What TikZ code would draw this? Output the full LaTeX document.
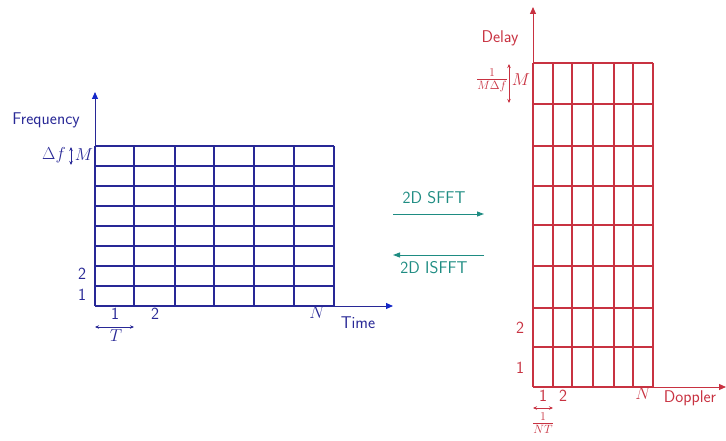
\documentclass[tikz,border=0pt]{standalone}
\usetikzlibrary{arrows.meta,positioning}
\definecolor{tfblue}{RGB}{40,40,150}
\definecolor{axblue}{RGB}{20,40,200}
\definecolor{ddred}{RGB}{200,50,65}
\definecolor{sfteal}{RGB}{30,140,130}
\tikzset{every picture/.style={line width=0.75pt}}
\tikzset{
  gridline/.style={line width=1.2pt},
  axisline/.style={line width=1pt,-{Triangle[length=7pt,width=6pt]}},
  blueaxis/.style={line width=1pt,tfblue,-{Triangle[length=7pt,width=6pt,color=axblue]}},
  spanarrow/.style={line width=0.8pt,{Stealth[length=4pt,width=3.5pt]}-{Stealth[length=4pt,width=3.5pt]}},
  transarrow/.style={line width=1pt,sfteal,-{Triangle[length=7pt,width=5pt]}}
}
\begin{document}
\begin{tikzpicture}[x=1pt,y=-1pt,font=\sffamily\fontsize{17}{19}\selectfont]
    \useasboundingbox (0,0) rectangle (726,441);

    % 时频网格
    \foreach \x in {95,134,175,214,254,294,334}
        \draw[gridline,tfblue] (\x,146) -- (\x,306);
    \foreach \y in {146,166,...,306}
        \draw[gridline,tfblue] (95,\y) -- (334,\y);

    % 时频坐标轴
    \coordinate (tfo) at (95,306);
    \coordinate (tfy) at (95,92);
    \coordinate (tfx) at (393,306);
    \draw[blueaxis] (tfo) -- (tfy);
    \draw[blueaxis] (tfo) -- (tfx);
    \node[tfblue] (freq) at (46,120) {Frequency};
    \node[tfblue] (time) at (358,323) {Time};

    % 频率间隔
    \node[tfblue] (df) at (54,155) {$\Delta f$};
    \node[tfblue] (fM) at (84,155) {$M$};
    \coordinate (dfa) at (71,147);
    \coordinate (dfb) at (71,165);
    \draw[spanarrow,tfblue] (dfa) -- (dfb);
    \node[tfblue] (f2) at (82,274) {2};
    \node[tfblue] (f1) at (82,295) {1};

    % 时间间隔
    \node[tfblue] (t1) at (115,314) {1};
    \node[tfblue] (t2) at (155,314) {2};
    \node[tfblue] (tN) at (317,313) {$N$};
    \coordinate (ta) at (95,327);
    \coordinate (tb) at (134,327);
    \draw[spanarrow,tfblue] (ta) -- (tb);
    \node[tfblue] (tT) at (116,336) {$T$};

    % 变换箭头
    \coordinate (sa) at (393,214);
    \coordinate (sb) at (484,214);
    \coordinate (ia) at (484,255);
    \coordinate (ib) at (393,255);
    \draw[transarrow] (sa) -- (sb);
    \draw[transarrow] (ia) -- (ib);
    \node[sfteal] (sfft) at (434,198) {2D SFFT};
    \node[sfteal] (isfft) at (434,268) {2D ISFFT};

    % 时延多普勒网格
    \foreach \x in {533,553,572,593,614,633,653}
        \draw[gridline,ddred] (\x,63) -- (\x,387);
    \foreach \y in {63,104,146,186,225,266,308,347,387}
        \draw[gridline,ddred] (533,\y) -- (653,\y);

    % 时延多普勒坐标轴
    \coordinate (ddo) at (533,387);
    \coordinate (ddy) at (533,7);
    \coordinate (ddx) at (726,387);
    \draw[axisline,ddred] (ddo) -- (ddy);
    \draw[axisline,ddred] (ddo) -- (ddx);
    \node[ddred] (delay) at (500,38) {Delay};
    \node[ddred] (doppler) at (690,398) {Doppler};

    % 时延分辨率
    \node[ddred] (dres) at (492,80) {$\frac{1}{M\Delta f}$};
    \coordinate (dra) at (509,64);
    \coordinate (drb) at (509,103);
    \draw[spanarrow,ddred] (dra) -- (drb);
    \node[ddred] (dM) at (521,80) {$M$};
    \node[ddred] (d2) at (520,328) {2};
    \node[ddred] (d1) at (520,368) {1};

    % 多普勒分辨率
    \node[ddred] (v1) at (543,396) {1};
    \node[ddred] (v2) at (563,396) {2};
    \node[ddred] (vN) at (643,394) {$N$};
    \coordinate (va) at (533,408);
    \coordinate (vb) at (553,408);
    \draw[spanarrow,ddred] (va) -- (vb);
    \node[ddred] (vres) at (543,423) {$\frac{1}{NT}$};
\end{tikzpicture}
\end{document}
